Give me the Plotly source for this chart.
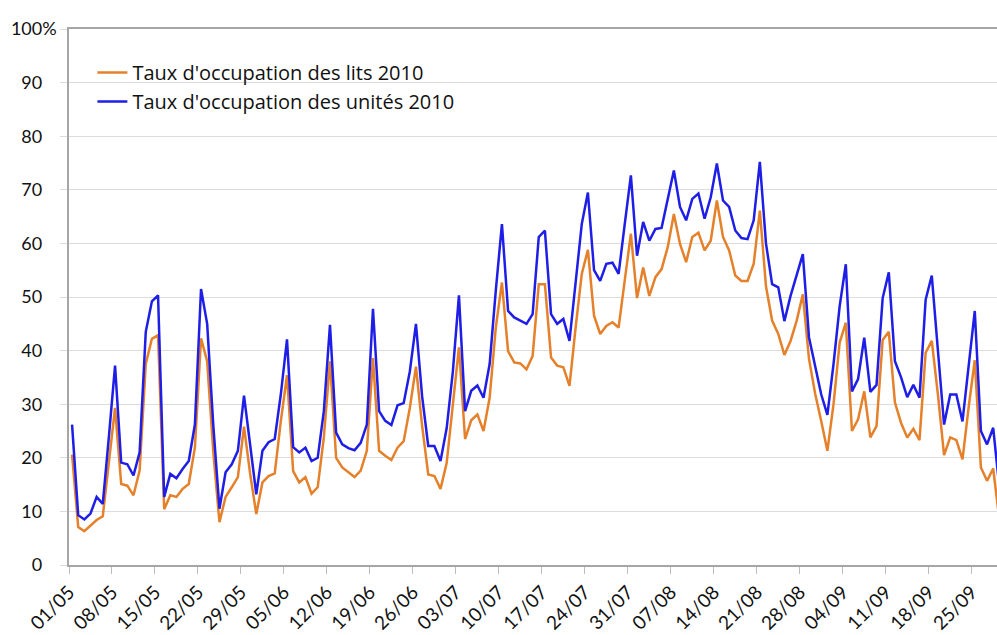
import datetime as dt
import plotly.graph_objects as go

# Daily occupancy rates (%), 01/05/2010 onwards
lits_2010 = [
    20.6, 7.1, 6.3, 7.4, 8.4, 9.1, 19.0, 29.3, 15.1, 14.8,
    13.0, 17.6, 37.5, 42.2, 42.9, 10.4, 13.0, 12.7, 14.2, 15.1,
    21.9, 42.3, 38.0, 21.0, 8.0, 12.7, 14.5, 16.4, 25.8, 17.0,
    9.5, 15.4, 16.6, 17.1, 26.9, 35.4, 17.5, 15.4, 16.4, 13.3,
    14.5, 23.8, 38.0, 20.0, 18.2, 17.3, 16.4, 17.6, 21.3, 38.6,
    21.3, 20.4, 19.6, 21.9, 23.1, 29.3, 37.0, 26.0, 16.9, 16.6,
    14.2, 19.0, 30.0, 40.6, 23.5, 27.0, 28.1, 25.0, 31.2, 44.3,
    52.7, 39.9, 37.8, 37.6, 36.5, 39.0, 52.4, 52.4, 38.7, 37.2,
    36.9, 33.4, 44.3, 54.3, 58.8, 46.5, 43.1, 44.6, 45.3, 44.3,
    53.1, 61.8, 49.8, 55.5, 50.2, 53.7, 55.2, 59.3, 65.5, 59.9,
    56.5, 61.2, 62.0, 58.7, 60.5, 68.0, 61.2, 58.7, 54.0, 53.0,
    53.0, 56.2, 66.1, 52.0, 45.6, 43.1, 39.2, 41.8, 45.6, 50.5,
    38.5, 32.0, 26.8, 21.3, 30.0, 41.5, 45.2, 25.0, 27.2, 32.4,
    23.8, 25.9, 42.0, 43.5, 30.3, 26.5, 23.8, 25.4, 23.3, 39.6,
    41.8, 31.8, 20.5, 23.8, 23.3, 19.7, 29.4, 38.2, 18.2, 15.7,
    18.0, 8.5,
]
unites_2010 = [
    26.2, 9.3, 8.5, 9.6, 12.7, 11.4, 24.0, 37.2, 19.1, 18.8,
    16.7, 21.0, 43.5, 49.2, 50.3, 12.7, 17.0, 16.2, 17.9, 19.4,
    26.2, 51.5, 45.0, 26.0, 10.5, 17.3, 18.8, 21.3, 31.6, 21.9,
    13.2, 21.3, 22.9, 23.5, 31.9, 42.1, 22.0, 21.0, 21.9, 19.4,
    20.0, 28.7, 44.8, 24.7, 22.5, 21.8, 21.4, 22.8, 26.2, 47.8,
    28.7, 26.9, 26.1, 29.8, 30.2, 36.1, 45.0, 31.5, 22.2, 22.2,
    19.4, 25.5, 36.0, 50.3, 28.7, 32.5, 33.5, 31.2, 37.5, 51.2,
    63.6, 47.4, 46.2, 45.6, 45.0, 46.8, 61.2, 62.4, 46.8, 45.0,
    45.9, 41.8, 53.0, 63.6, 69.5, 55.0, 53.0, 56.2, 56.4, 54.3,
    63.6, 72.7, 57.7, 64.0, 60.5, 62.7, 62.9, 68.3, 73.6, 66.8,
    64.3, 68.3, 69.3, 64.6, 68.6, 74.9, 68.0, 66.8, 62.4, 61.0,
    60.8, 64.3, 75.2, 60.0, 52.4, 51.8, 45.5, 50.2, 54.3, 58.0,
    42.5, 36.8, 31.8, 28.0, 37.5, 48.3, 56.1, 32.4, 34.7, 42.4,
    32.3, 33.6, 49.8, 54.6, 38.0, 35.0, 31.3, 33.6, 31.2, 49.5,
    54.0, 40.0, 26.2, 31.8, 31.8, 26.8, 36.8, 47.4, 25.0, 22.5,
    25.6, 14.5,
]
series_names = ["Taux d'occupation des lits 2010", "Taux d'occupation des unités 2010"]
y_ticks = [0, 10, 20, 30, 40, 50, 60, 70, 80, 90, 100]

start = dt.date(2010, 5, 1)
dates = [(start + dt.timedelta(days=i)).strftime("%d/%m") for i in range(len(unites_2010))]
x = list(range(len(dates)))
tick_idx = list(range(0, 148, 7))

FONT = "Lato, 'Open Sans', sans-serif"

fig = go.Figure()
fig.add_trace(go.Scatter(x=x, y=lits_2010, mode="lines", name=series_names[0],
                         line=dict(color="#E5802B", width=2.5)))
fig.add_trace(go.Scatter(x=x, y=unites_2010, mode="lines", name=series_names[1],
                         line=dict(color="#1E1EE6", width=2.5)))

ytext = [("%d%%" % v) if v == 100 else ("%d<span style='color:rgba(0,0,0,0)'>%%</span>" % v)
         for v in y_ticks]

fig.update_layout(
    width=997, height=635,
    margin=dict(l=69, r=0, t=29, b=70, autoexpand=False),
    paper_bgcolor="white", plot_bgcolor="white",
    font=dict(family=FONT, size=18, color="#111111"),
    showlegend=True,
    legend=dict(x=0.0252, y=0.955, xanchor="left", yanchor="top",
                bgcolor="rgba(0,0,0,0)",
                font=dict(family="'Open Sans', sans-serif", size=20, color="#111111"),
                tracegroupgap=4),
    xaxis=dict(
        range=[-0.5, 150.62],
        tickmode="array",
        tickvals=[i - 0.5 for i in tick_idx],
        ticktext=[dates[i] for i in tick_idx],
        tickangle=-45,
        ticks="outside", ticklen=7, tickcolor="#bdbdbd",
        showline=True, linecolor="#a6a6a6", linewidth=1.5, mirror=True,
        showgrid=False, zeroline=False, automargin=False,
        tickfont=dict(size=19),
    ),
    yaxis=dict(
        range=[0, 100],
        tickmode="array",
        tickvals=y_ticks,
        ticktext=ytext,
        ticks="outside", ticklen=7, tickcolor="#dcdcdc",
        showline=True, linecolor="#a6a6a6", linewidth=1.5,
        showgrid=True, gridcolor="#dcdcdc", gridwidth=1,
        zeroline=False, automargin=False,
        tickfont=dict(size=18),
        ticklabelstandoff=0,
    ),
)

fig.write_html(
    "out.html",
    config={"displayModeBar": False},
    post_script="document.body.style.margin='0';document.body.style.overflow='hidden';",
)
